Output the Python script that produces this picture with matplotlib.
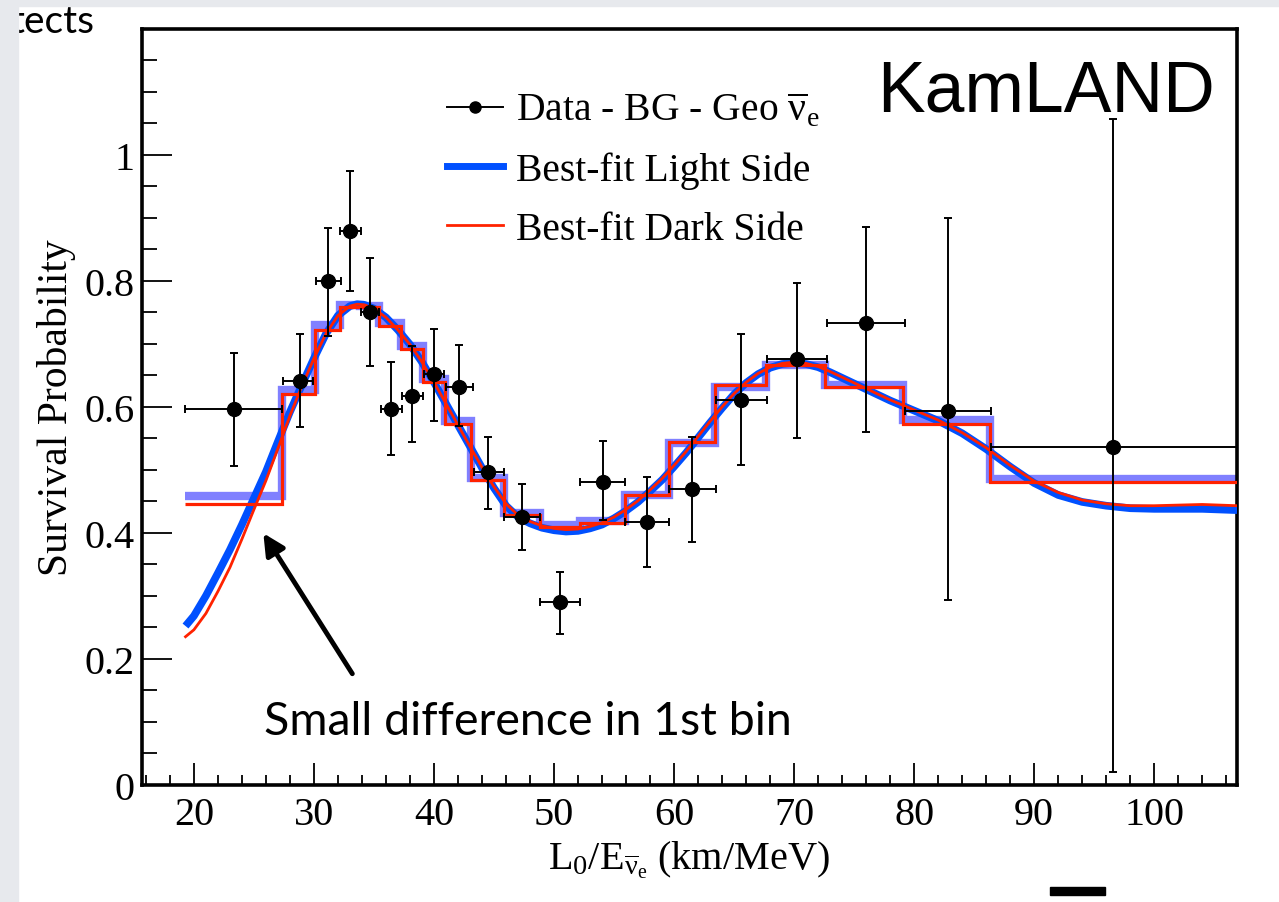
import numpy as np
import matplotlib
matplotlib.use("Agg")
import matplotlib.pyplot as plt
from matplotlib.lines import Line2D
from matplotlib.patches import Rectangle
from matplotlib.ticker import MultipleLocator

plt.rcParams['font.family'] = ['Liberation Serif', 'DejaVu Serif']
plt.rcParams['mathtext.fontset'] = 'custom'
plt.rcParams['mathtext.rm'] = 'Liberation Serif'
plt.rcParams['mathtext.it'] = 'Liberation Serif:italic'
plt.rcParams['mathtext.bf'] = 'Liberation Serif:bold'

# data points (Data - BG - Geo)
data_x = [23.36, 28.83, 31.18, 33.0, 34.65, 36.4, 38.2, 40.0, 42.09, 44.5,
          47.34, 50.53, 54.08, 57.75, 61.5, 65.6, 70.2, 75.97, 82.8, 96.6]
data_y = [0.596, 0.641, 0.800, 0.880, 0.750, 0.597, 0.618, 0.652, 0.632, 0.496,
          0.425, 0.290, 0.480, 0.417, 0.469, 0.611, 0.676, 0.733, 0.594, 0.537]
data_xlo = [19.25, 27.38, 30.16, 32.2, 33.9, 35.55, 37.3, 39.2, 40.98, 43.3,
            45.8, 48.87, 52.2, 55.95, 59.6, 63.5, 67.7, 72.7, 79.2, 86.4]
data_xhi = [27.3, 29.93, 32.24, 33.9, 35.4, 37.3, 39.1, 40.8, 43.26, 45.8,
            48.8, 52.2, 55.95, 59.6, 63.5, 67.7, 72.7, 79.2, 86.4, 110.0]
data_ylo = [0.506, 0.568, 0.713, 0.784, 0.665, 0.524, 0.544, 0.578, 0.570, 0.438,
            0.372, 0.240, 0.420, 0.346, 0.385, 0.507, 0.550, 0.560, 0.294, 0.020]
data_yhi = [0.686, 0.715, 0.884, 0.975, 0.837, 0.672, 0.697, 0.723, 0.699, 0.552,
            0.478, 0.338, 0.545, 0.488, 0.552, 0.716, 0.797, 0.886, 0.900, 1.057]

# binned best fits
bin_edges = [19.25, 27.35, 30.1, 32.2, 33.85, 35.45, 37.25, 39.1, 40.95, 43.1, 45.8,
             48.8, 52.15, 55.95, 59.55, 63.45, 67.65, 72.6, 79.1, 86.3, 106.87]
light_bins = [0.458, 0.627, 0.730, 0.762, 0.760, 0.733, 0.697, 0.645, 0.578, 0.487,
              0.432, 0.412, 0.419, 0.460, 0.543, 0.632, 0.667, 0.635, 0.579, 0.486]
dark_bins = [0.446, 0.620, 0.722, 0.759, 0.758, 0.729, 0.692, 0.640, 0.573, 0.484,
             0.429, 0.410, 0.416, 0.460, 0.544, 0.635, 0.667, 0.632, 0.573, 0.481]

# smooth best-fit curves
curve_x = [19.3, 20, 21, 22, 23, 24, 25, 26, 27, 28, 29, 30, 31, 32, 33, 33.6, 34.2,
           35, 36, 37, 38, 39, 40, 41, 42, 43, 44, 45, 46, 47, 48, 49, 50, 51, 52,
           53, 54, 55, 56, 57, 58, 59, 60, 61, 62, 63, 64, 65, 66, 67, 68, 69, 70,
           71, 72, 73, 74, 75, 76, 78, 80, 82, 84, 86, 88, 90, 92, 94, 96, 98, 100,
           102, 104, 106.9]
light_curve = [0.252, 0.268, 0.300, 0.336, 0.373, 0.413, 0.455, 0.497, 0.545, 0.592,
               0.635, 0.677, 0.716, 0.745, 0.760, 0.763, 0.762, 0.756, 0.742, 0.722,
               0.699, 0.671, 0.639, 0.605, 0.571, 0.537, 0.503, 0.471, 0.443, 0.425,
               0.415, 0.408, 0.404, 0.402, 0.403, 0.407, 0.413, 0.423, 0.435, 0.449,
               0.466, 0.484, 0.505, 0.527, 0.551, 0.575, 0.598, 0.620, 0.638, 0.652,
               0.662, 0.668, 0.670, 0.668, 0.663, 0.655, 0.646, 0.637, 0.628, 0.610,
               0.594, 0.578, 0.558, 0.533, 0.505, 0.479, 0.460, 0.449, 0.443, 0.439,
               0.438, 0.438, 0.438, 0.436]
dark_curve = [0.235, 0.246, 0.272, 0.307, 0.345, 0.390, 0.437, 0.483, 0.534, 0.586,
              0.633, 0.677, 0.716, 0.745, 0.760, 0.763, 0.762, 0.756, 0.742, 0.722,
              0.699, 0.671, 0.639, 0.605, 0.571, 0.537, 0.504, 0.473, 0.446, 0.428,
              0.418, 0.411, 0.407, 0.405, 0.406, 0.410, 0.416, 0.425, 0.437, 0.451,
              0.468, 0.486, 0.507, 0.529, 0.553, 0.577, 0.600, 0.621, 0.639, 0.653,
              0.663, 0.669, 0.671, 0.669, 0.664, 0.656, 0.647, 0.638, 0.629, 0.611,
              0.595, 0.579, 0.559, 0.535, 0.507, 0.482, 0.464, 0.452, 0.446, 0.443,
              0.443, 0.444, 0.445, 0.443]

ytick_vals = [0, 0.2, 0.4, 0.6, 0.8, 1.0]
ytick_labels = ['0', '0.2', '0.4', '0.6', '0.8', '1']
xtick_vals = [20, 30, 40, 50, 60, 70, 80, 90, 100]

legend_labels = [r'Data - BG - Geo $\overline{\mathrm{\nu}}_{\mathrm{e}}$',
                 'Best-fit Light Side', 'Best-fit Dark Side']

fig = plt.figure(figsize=(12.79, 9.03), dpi=100)
fig.patch.set_facecolor('white')

# slide background strips
fig.text(10 / 1279, 1 - 33 / 903, 'tects', family=['Lato', 'DejaVu Sans'],
         fontsize=28, color='black', zorder=1)
fig.add_artist(Rectangle((0, 0), 18 / 1279, 1, transform=fig.transFigure,
                         color='#e7e9ed', zorder=2))
fig.add_artist(Rectangle((0, 1 - 7 / 903), 1, 7 / 903, transform=fig.transFigure,
                         color='#e7e9ed', zorder=2))
fig.add_artist(Rectangle((1050 / 1279, 1 - 896 / 903), 55 / 1279, 8 / 903,
                         transform=fig.transFigure, color='black', zorder=2))

ax = fig.add_axes([141.7 / 1279, 1 - 785.7 / 903, (1236.7 - 141.7) / 1279,
                   (785.7 - 30) / 903])

red = '#ff2200'
blue = '#0050ff'

ax.stairs(light_bins, bin_edges, baseline=None, color='#8080ff', lw=6, zorder=2)
ax.plot(curve_x, light_curve, color=blue, lw=5.5, zorder=3, solid_capstyle='butt')
ax.stairs(dark_bins, bin_edges, baseline=None, color=red, lw=2.3, zorder=4)
ax.plot(curve_x, dark_curve, color=red, lw=2, zorder=5)

dx = np.array(data_x)
dy = np.array(data_y)
xerr = [dx - np.array(data_xlo), np.array(data_xhi) - dx]
yerr = [dy - np.array(data_ylo), np.array(data_yhi) - dy]
ax.errorbar(dx, dy, xerr=xerr, yerr=yerr, fmt='o', color='black', ms=10,
            elinewidth=1.4, capsize=3, capthick=1.4, zorder=6)

ax.set_xlim(15.65, 106.87)
ax.set_ylim(0, 1.2)
ax.set_xticks(xtick_vals)
ax.set_yticks(ytick_vals)
ax.set_yticklabels(ytick_labels)
ax.xaxis.set_minor_locator(MultipleLocator(2))
ax.yaxis.set_minor_locator(MultipleLocator(0.05))
ax.tick_params(axis='x', which='major', direction='in', length=15.6, width=1.3,
               labelsize=29, pad=8)
ax.tick_params(axis='x', which='minor', direction='in', length=7.2, width=1.3)
ax.tick_params(axis='y', which='major', direction='in', length=21.6, width=1.3,
               labelsize=29, pad=5)
ax.tick_params(axis='y', which='minor', direction='in', length=10.8, width=1.3)
for s in ax.spines.values():
    s.set_linewidth(2.6)

ax.set_ylabel('Survival Probability', fontsize=30, labelpad=6)
ax.set_xlabel(r'L$_{\mathrm{0}}$/E$_{\overline{\mathrm{\nu}}_{\mathrm{e}}}$ (km/MeV)',
              fontsize=29, labelpad=4)

handles = [Line2D([], [], color='black', lw=1.4, marker='o', ms=8),
           Line2D([], [], color=blue, lw=5),
           Line2D([], [], color=red, lw=2)]
ax.legend(handles, legend_labels, loc='upper left', bbox_to_anchor=(0.279, 0.918),
          frameon=False, fontsize=28.5, borderpad=0, borderaxespad=0,
          handlelength=1.4, handletextpad=0.35, labelspacing=0.55)

fig.text(877 / 1279, 1 - 112 / 903, 'KamLAND', family=['Liberation Sans', 'DejaVu Sans'],
         fontsize=51.5, color='black')

# annotation
arrow_tip = (25.66, 0.403)
arrow_tail = (33.32, 0.1725)
ax.annotate('', xy=arrow_tip, xytext=arrow_tail,
            arrowprops=dict(arrowstyle='-|>', lw=3.5, color='black', mutation_scale=32),
            zorder=7)
fig.text(528 / 1279, 1 - 735 / 903, 'Small difference in 1st bin',
         family=['Lato', 'DejaVu Sans'], fontsize=33.5, ha='center', va='baseline')

fig.savefig('out.png', dpi=100)
